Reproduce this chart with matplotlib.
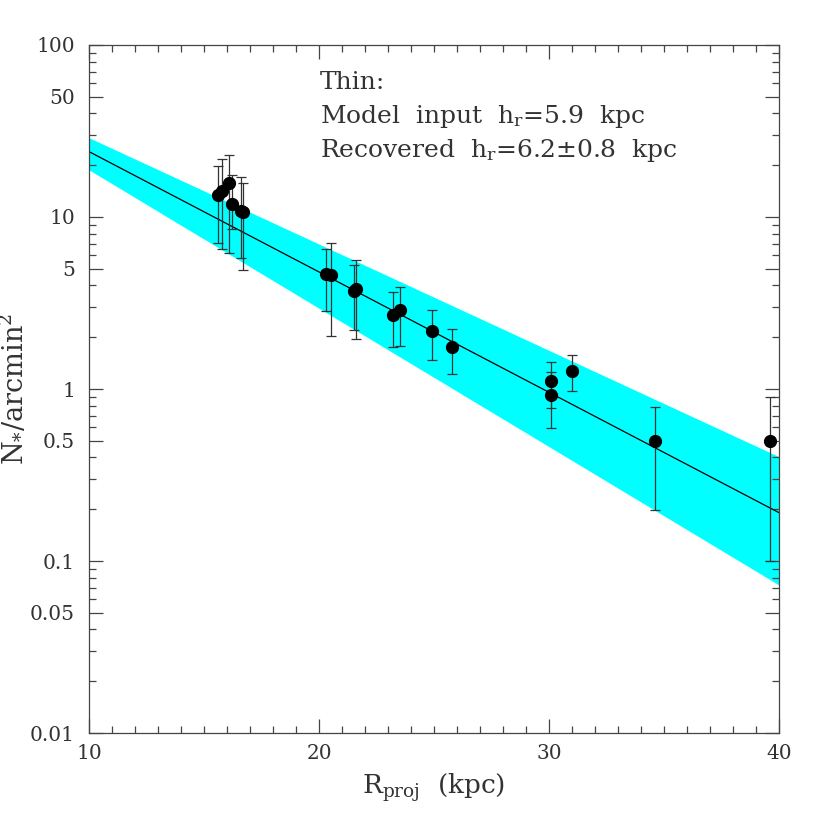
import matplotlib
matplotlib.use('Agg')
import matplotlib.pyplot as plt
from matplotlib.ticker import FixedLocator, NullFormatter
import numpy as np

plt.rcParams['font.family'] = ['DejaVu Serif']
plt.rcParams['mathtext.fontset'] = 'dejavuserif'
plt.rcParams['axes.unicode_minus'] = False

# measured points (kpc, stars / arcmin^2) with asymmetric error limits
r_proj = [15.6, 15.8, 16.1, 16.2, 16.6, 16.7, 20.3, 20.5, 21.5, 21.6,
          23.2, 23.5, 24.9, 25.8, 30.1, 30.1, 31.0, 34.6, 39.6]
n_star = [13.4, 14.2, 15.7, 11.9, 10.8, 10.7, 4.66, 4.58, 3.73, 3.8,
          2.68, 2.88, 2.18, 1.75, 1.11, 0.92, 1.28, 0.50, 0.50]
n_hi = [19.8, 21.8, 22.8, 17.6, 17.0, 15.7, 6.5, 7.1, 5.24, 5.65,
        3.65, 3.94, 2.88, 2.24, 1.43, 1.25, 1.58, 0.79, 0.895]
n_lo = [7.1, 6.5, 6.15, 8.5, 5.75, 4.9, 2.84, 2.02, 2.2, 1.95,
        1.75, 1.79, 1.47, 1.23, 0.78, 0.59, 0.97, 0.199, 0.10]

# fitted exponential and its uncertainty band, end values at R = 10 and 40 kpc
fit_r = [10, 40]
fit_n = [24.0, 0.191]
band_hi = [28.9, 0.404]
band_lo = [18.8, 0.0725]

y_major = [0.01, 0.05, 0.1, 0.5, 1, 5, 10, 50, 100]
y_labels = ['0.01', '0.05', '0.1', '0.5', '1', '5', '10', '50', '100']
x_major = [10, 20, 30, 40]

txt = '#333333'

fig = plt.figure(figsize=(8.22, 8.22), dpi=100)
ax = fig.add_axes([89/822, 89/822, 690/822, 688/822])

ax.fill_between(fit_r, band_lo, band_hi, color='#00ffff', lw=0)
ax.plot(fit_r, fit_n, color='black', lw=0.9)

n = np.array(n_star)
yerr = [n - np.array(n_lo), np.array(n_hi) - n]
ax.errorbar(r_proj, n_star, yerr=yerr, fmt='none', ecolor='#333333',
            elinewidth=0.9, capsize=3.5, capthick=0.9)
ax.plot(r_proj, n_star, 'o', color='black', ms=8.5, zorder=5)

ax.set_yscale('log')
ax.set_xlim(10, 40)
ax.set_ylim(0.01, 100)

ax.yaxis.set_major_locator(FixedLocator(y_major))
ax.set_yticklabels(y_labels)
minor = [m * 10.0**e for e in range(-2, 2) for m in (2, 3, 4, 6, 7, 8, 9)]
ax.yaxis.set_minor_locator(FixedLocator(minor))
ax.yaxis.set_minor_formatter(NullFormatter())
ax.set_xticks(x_major)
ax.set_xticks(range(10, 41), minor=True)

ax.tick_params(which='both', direction='in', top=True, right=True,
               color='#444444', width=0.9, labelsize=14.5, labelcolor=txt)
ax.tick_params(which='major', length=10)
ax.tick_params(axis='x', which='major', pad=8)
ax.tick_params(axis='y', which='major', pad=10)
ax.tick_params(which='minor', length=5)
for s in ax.spines.values():
    s.set_color('#444444')
    s.set_linewidth(0.9)

ax.set_xlabel(r'R$_{\mathrm{proj}}$  (kpc)', fontsize=19, color=txt, labelpad=6)
ax.set_ylabel(r'N$_{*}$/arcmin$^{2}$', fontsize=19.5, color=txt, labelpad=2)

ax.text(0.335, 0.936, 'Thin:', transform=ax.transAxes, fontsize=18,
        va='baseline', color=txt)
ax.text(0.335, 0.887, r'Model  input  h$_{\mathrm{r}}$=5.9  kpc', transform=ax.transAxes,
        fontsize=18, va='baseline', color=txt)
ax.text(0.335, 0.837, r'Recovered  h$_{\mathrm{r}}$=6.2$\pm$0.8  kpc', transform=ax.transAxes,
        fontsize=18, va='baseline', color=txt)

fig.savefig('out.png', dpi=100)
